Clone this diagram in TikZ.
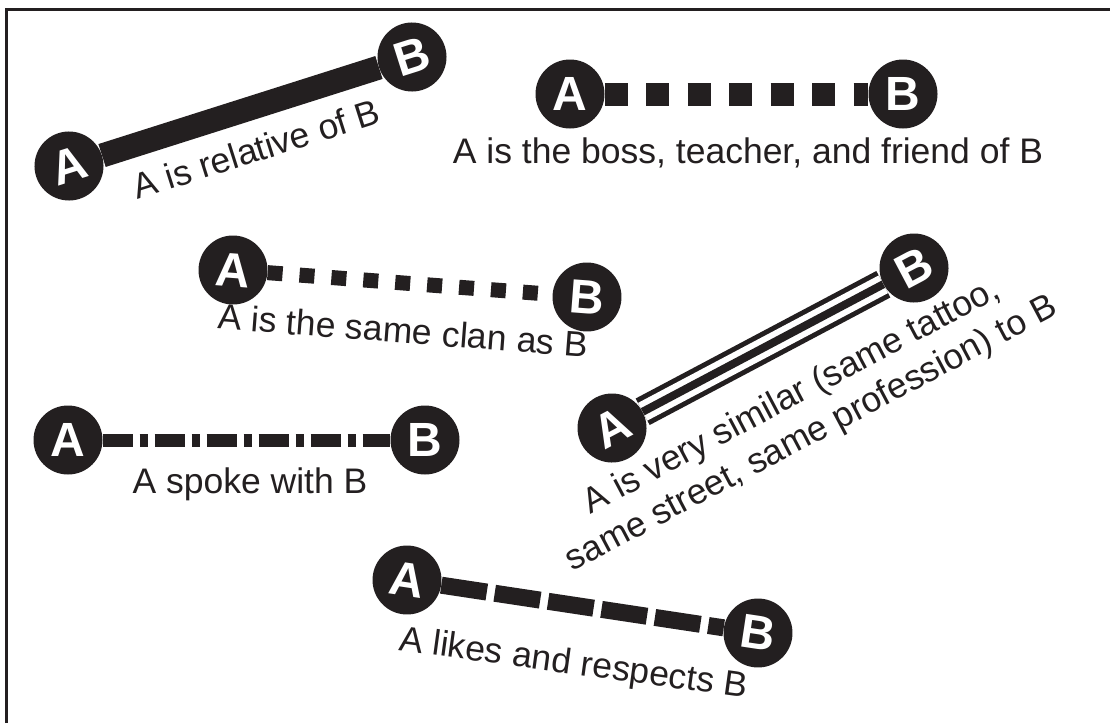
\documentclass[tikz,border=0pt]{standalone}
\usepackage{fontspec}
\setmainfont{Liberation Sans}
\definecolor{ink}{RGB}{35,31,32}

\begin{document}
\begin{tikzpicture}[x=1pt, y=-1pt]
\tikzstyle{person}=[circle,fill=ink,text=white,minimum size=69pt,inner sep=0pt,font=\bfseries\fontsize{48}{48}\selectfont]
\tikzstyle{tag}=[text=ink,inner sep=0pt,anchor=base,font=\fontsize{35.5}{42}\selectfont]
\tikzstyle{tie}=[draw=ink,line width=24pt]
\useasboundingbox (0,0) rectangle (1110,723);
\draw[ink, line width=3pt] (6.5,723) -- (6.5,9.5) -- (1110,9.5);
% relative
\node[person, rotate=17.6]   (A1) at (69,166)  {A};
\node[person, rotate=17.6]   (B1) at (412,57)  {B};
\node[tag, rotate=17.6]      (t1) at (260,161) {A is relative of B};
% boss
\node[person]                (A2) at (570,94)  {A};
\node[person]                (B2) at (903,94)  {B};
\node[tag]                   (t2) at (748,163) {A is the boss, teacher, and friend of B};
% clan
\node[person, rotate=-4.4]   (A3) at (233,270) {A};
\node[person, rotate=-4.4]   (B3) at (587,297) {B};
\node[tag, rotate=-4.4]      (t3) at (402,343) {A is the same clan as B};
% spoke
\node[person]                (A4) at (68,440)  {A};
\node[person]                (B4) at (425,440) {B};
\node[tag]                   (t4) at (250,493) {A spoke with B};
% similar
\node[person, rotate=27.9]   (A5) at (612,428) {A};
\node[person, rotate=27.9]   (B5) at (914,268) {B};
\node[tag, rotate=27.9, anchor=center, align=center] (t5) at (802,416)
    {A is very similar (same tattoo,\\same street, same profession) to B};
% likes
\node[person, rotate=-8.6]   (A6) at (407,580) {A};
\node[person, rotate=-8.6]   (B6) at (758,633) {B};
\node[tag, rotate=-7.8]      (t6) at (572,674) {A likes and respects B};
\path
(A1)    edge[tie]                                           (B1)
(A2)    edge[tie, line width=23pt, dash pattern=on 23pt off 18.5pt] (B2)
(A3)    edge[tie, line width=15pt, dash pattern=on 15pt off 17pt]   (B3)
(A4)    edge[tie, line width=13pt, dash pattern=on 30pt off 7pt on 8pt off 7pt] (B4)
(A5)    edge[tie, line width=30pt]                          (B5)
        edge[draw=white, line width=20pt]                   (B5)
        edge[tie, line width=8pt]                           (B5)
(A6)    edge[tie, line width=17pt, dash pattern=on 46pt off 8pt]    (B6);
\end{tikzpicture}
\end{document}
